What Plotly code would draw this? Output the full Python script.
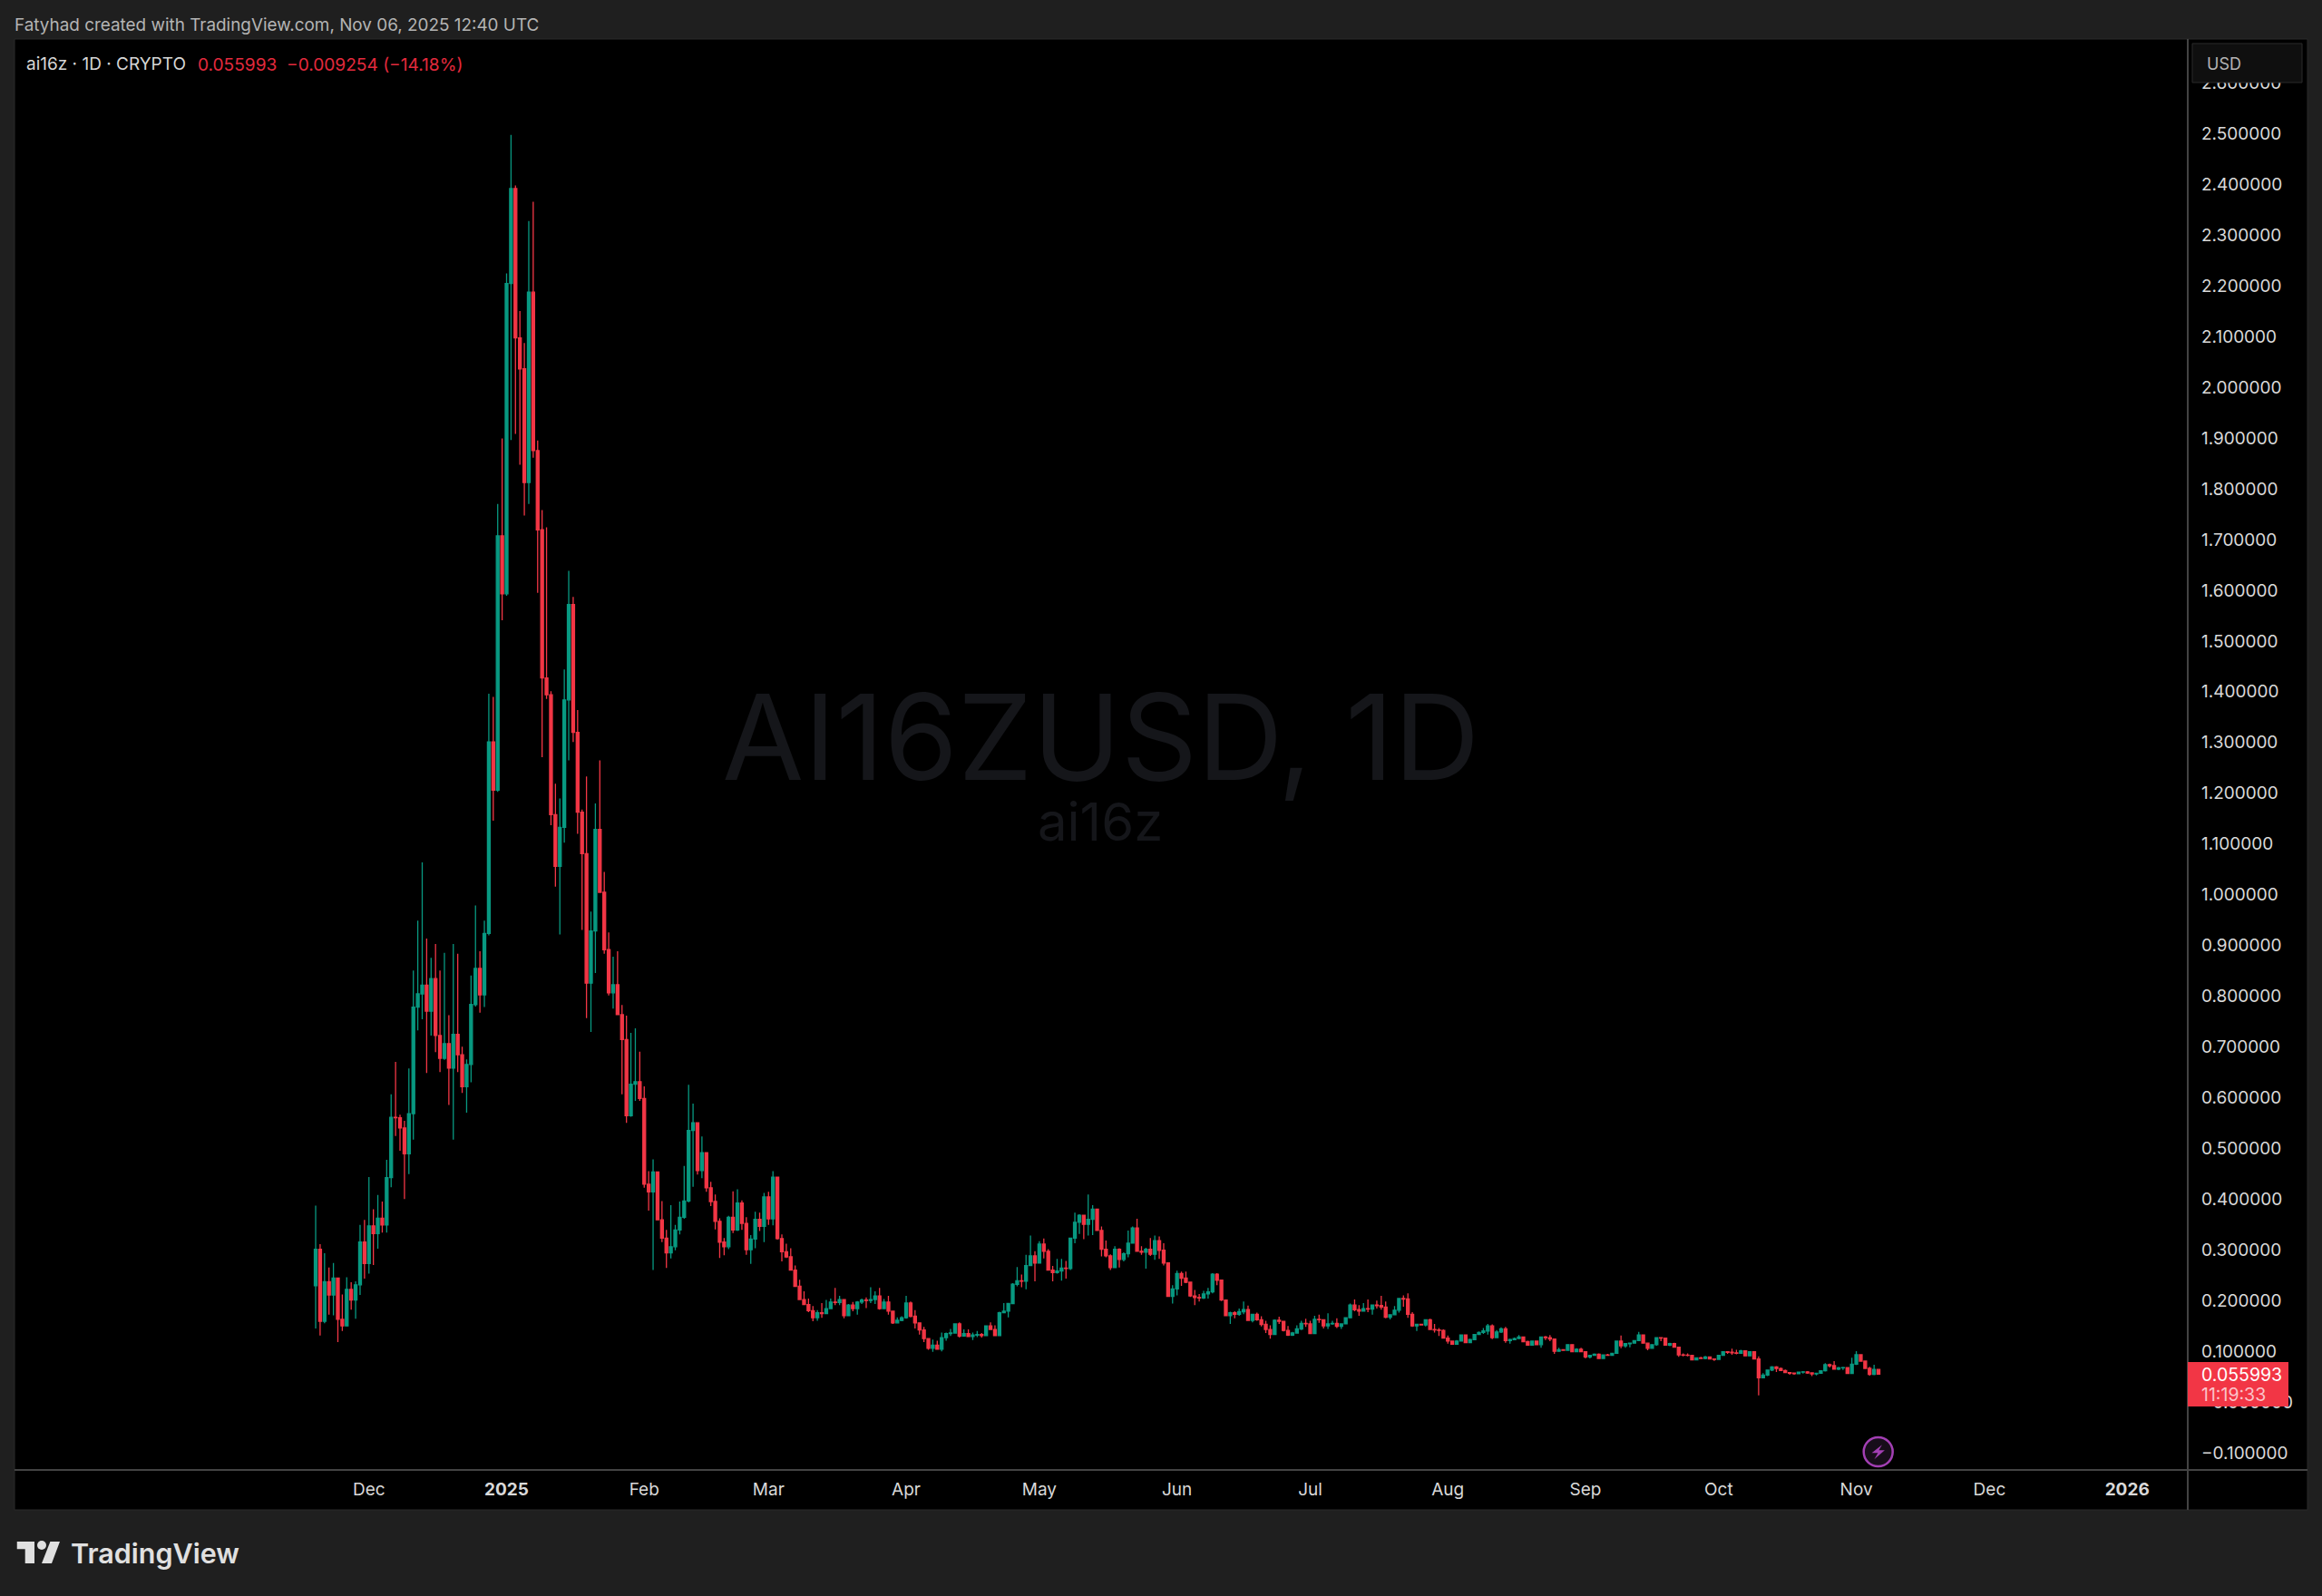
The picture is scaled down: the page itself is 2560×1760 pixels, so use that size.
import pandas as pd
import plotly.graph_objects as go

# daily candles, open is the previous close
first_open = 0.230
first_day = "2024-11-19"

closes = [
    .302, .160, .238, .212, .245, .164, .151, .223, .202, .232,
    .316, .274, .348, .333, .363, .350, .443, .562, .561, .541,
    .490, .569, .779, .805, .822, .771, .835, .723, .678, .707,
    .659, .725, .685, .622, .666, .784, .855, .803, .924, 1.301,
    1.206, 1.707, 1.593, 2.204, 2.391, 2.097, 2.036, 1.812, 2.187, 1.875,
    1.719, 1.427, 1.394, 1.158, 1.056, 1.133, 1.384, 1.572, 1.320, 1.163,
    1.081, .826, .929, 1.129, 1.005, .892, .807, .823, .764, .715,
    .565, .627, .632, .599, .430, .415, .454, .360, .324, .295,
    .307, .340, .365, .397, .536, .551, .457, .492, .423, .396,
    .357, .316, .307, .365, .340, .393, .353, .301, .322, .361,
    .347, .405, .362, .444, .323, .297, .287, .261, .229, .203,
    .193, .181, .167, .177, .175, .185, .198, .197, .203, .171,
    .192, .185, .198, .202, .201, .203, .210, .185, .198, .180,
    .157, .162, .167, .196, .170, .157, .143, .126, .107, .113,
    .105, .128, .136, .137, .155, .131, .136, .130, .133, .134,
    .132, .151, .144, .132, .177, .180, .195, .233, .240, .239,
    .270, .289, .275, .312, .298, .261, .256, .259, .265, .264,
    .324, .355, .369, .351, .361, .381, .339, .302, .289, .266,
    .302, .282, .293, .314, .344, .298, .296, .302, .292, .319,
    .300, .275, .209, .224, .254, .245, .237, .210, .207, .206,
    .214, .218, .253, .241, .202, .171, .177, .174, .179, .183,
    .162, .174, .163, .154, .144, .134, .162, .160, .142, .133,
    .137, .145, .156, .155, .136, .164, .163, .151, .155, .156,
    .150, .155, .167, .192, .183, .180, .185, .184, .192, .191,
    .188, .168, .173, .182, .205, .204, .174, .151, .154, .153,
    .163, .144, .143, .142, .127, .121, .115, .121, .133, .118,
    .124, .134, .138, .141, .151, .128, .139, .145, .122, .124,
    .126, .129, .120, .113, .121, .114, .129, .128, .125, .101,
    .104, .103, .114, .100, .105, .100, .090, .093, .095, .087,
    .094, .093, .097, .121, .112, .116, .117, .122, .133, .117,
    .107, .114, .128, .127, .113, .116, .109, .094, .0935, .093,
    .084, .088, .087, .090, .086, .085, .093, .100, .099, .098,
    .097, .102, .092, .100, .086, .049, .054, .064, .070, .067,
    .063, .059, .058, .057, .060, .0605, .0584, .0566, .0578, .0626,
    .0745, .0727, .0656, .0685, .0690, .0572, .0757, .0941, .0816, .0673,
    .0554, .0652, .055993,
]

highs = [
    .388, .312, .294, .266, .275, .245, .213, .247, .237, .239,
    .350, .360, .444, .381, .409, .396, .478, .607, .671, .567,
    .555, .658, .851, .949, 1.064, .914, .876, .903, .851, .886,
    .763, .903, .884, .701, .676, .841, .979, .889, .949, 1.396,
    1.390, 1.770, 1.899, 2.224, 2.497, 2.397, 2.150, 2.087, 2.327, 2.365,
    1.895, 1.758, 1.724, 1.401, 1.219, 1.190, 1.444, 1.638, 1.587, 1.364,
    1.168, 1.233, .967, 1.180, 1.265, 1.045, .926, .878, .889, .783,
    .762, .728, .737, .691, .623, .456, .479, .454, .397, .340,
    .389, .350, .396, .466, .626, .589, .551, .524, .492, .435,
    .410, .363, .324, .368, .416, .420, .398, .365, .330, .376,
    .374, .413, .415, .456, .444, .331, .313, .304, .270, .242,
    .219, .205, .190, .182, .196, .202, .205, .226, .210, .203,
    .194, .198, .200, .205, .207, .227, .219, .226, .204, .210,
    .180, .168, .170, .210, .199, .182, .157, .149, .126, .124,
    .122, .138, .138, .145, .156, .158, .144, .144, .138, .141,
    .137, .152, .158, .152, .179, .196, .196, .235, .267, .252,
    .291, .329, .298, .318, .323, .302, .269, .283, .283, .279,
    .325, .374, .371, .370, .410, .389, .381, .347, .319, .292,
    .308, .304, .296, .339, .347, .362, .308, .305, .324, .329,
    .327, .314, .275, .231, .260, .258, .258, .237, .222, .214,
    .220, .226, .255, .255, .241, .202, .179, .180, .185, .199,
    .191, .174, .177, .170, .161, .152, .164, .169, .161, .151,
    .139, .152, .161, .165, .161, .171, .173, .161, .176, .161,
    .166, .156, .168, .195, .203, .192, .196, .203, .193, .201,
    .210, .199, .174, .190, .206, .211, .215, .178, .155, .155,
    .164, .165, .155, .147, .144, .132, .122, .123, .134, .134,
    .126, .135, .140, .147, .155, .154, .143, .148, .149, .126,
    .128, .133, .129, .122, .122, .122, .130, .131, .133, .126,
    .108, .105, .115, .115, .107, .108, .101, .094, .097, .097,
    .095, .096, .098, .122, .132, .117, .118, .123, .139, .134,
    .118, .115, .129, .129, .127, .118, .118, .110, .097, .097,
    .094, .089, .090, .092, .091, .087, .094, .101, .101, .106,
    .104, .104, .103, .101, .101, .091, .058, .065, .072, .072,
    .069, .065, .060, .058, .061, .062, .062, .0595, .0590, .0632,
    .0775, .0765, .0816, .0703, .0705, .0700, .0882, .1013, .0950, .0816,
    .0703, .0745, .0665,
]

lows = [
    .146, .132, .156, .173, .172, .119, .141, .151, .183, .165,
    .212, .244, .254, .271, .303, .335, .335, .424, .525, .496,
    .401, .450, .518, .733, .755, .649, .723, .690, .651, .675,
    .586, .518, .651, .610, .571, .631, .780, .768, .779, .920,
    1.146, 1.203, 1.541, 1.589, 1.896, 1.908, 1.847, 1.747, 1.770, 1.861,
    1.595, 1.271, 1.386, 1.137, 1.016, .922, 1.103, 1.265, 1.301, 1.120,
    .931, .757, .730, .846, 1.005, .884, .802, .776, .763, .607,
    .551, .563, .594, .594, .423, .378, .261, .360, .316, .265,
    .284, .300, .331, .362, .394, .425, .449, .442, .415, .387,
    .341, .285, .290, .302, .334, .338, .340, .291, .273, .304,
    .338, .316, .350, .349, .321, .278, .285, .261, .229, .202,
    .192, .178, .160, .161, .167, .175, .184, .192, .192, .166,
    .171, .180, .173, .194, .186, .196, .194, .183, .184, .173,
    .155, .156, .160, .165, .168, .146, .134, .119, .104, .100,
    .104, .101, .122, .131, .136, .128, .130, .130, .123, .129,
    .128, .132, .144, .131, .132, .177, .168, .195, .229, .227,
    .223, .269, .239, .274, .284, .261, .239, .254, .240, .244,
    .261, .314, .332, .322, .329, .330, .338, .288, .286, .261,
    .266, .266, .278, .286, .314, .298, .291, .264, .289, .281,
    .283, .270, .209, .195, .211, .230, .235, .208, .192, .199,
    .204, .205, .215, .231, .200, .171, .155, .166, .171, .174,
    .161, .158, .161, .150, .137, .126, .133, .155, .140, .131,
    .131, .136, .143, .149, .135, .137, .157, .146, .145, .153,
    .147, .145, .155, .167, .180, .171, .179, .178, .173, .185,
    .183, .166, .164, .173, .177, .189, .167, .149, .141, .152,
    .150, .143, .138, .131, .126, .116, .114, .115, .120, .117,
    .117, .124, .133, .135, .134, .125, .127, .137, .118, .116,
    .123, .125, .119, .112, .113, .113, .108, .123, .121, .096,
    .101, .102, .103, .099, .100, .099, .087, .087, .092, .086,
    .087, .092, .093, .097, .107, .108, .109, .116, .121, .116,
    .103, .106, .112, .121, .112, .111, .108, .090, .091, .091,
    .083, .083, .086, .085, .085, .082, .085, .093, .096, .094,
    .095, .096, .091, .091, .085, .014, .048, .052, .062, .060,
    .062, .058, .055, .055, .056, .057, .0565, .052, .0535, .0570,
    .0610, .069, .0650, .0637, .0640, .0565, .0560, .0740, .0810, .0665,
    .0530, .0540, .0548,
]

price_ticks = [-0.1, 0.0, 0.1, 0.2, 0.3, 0.4, 0.5, 0.6, 0.7, 0.8, 0.9, 1.0, 1.1, 1.2, 1.3,
               1.4, 1.5, 1.6, 1.7, 1.8, 1.9, 2.0, 2.1, 2.2, 2.3, 2.4, 2.5, 2.6]
price_labels = ["−0.100000", "−0.000000", "0.100000", "0.200000", "0.300000", "0.400000",
                "0.500000", "0.600000", "0.700000", "0.800000", "0.900000", "1.000000",
                "1.100000", "1.200000", "1.300000", "1.400000", "1.500000", "1.600000",
                "1.700000", "1.800000", "1.900000", "2.000000", "2.100000", "2.200000",
                "2.300000", "2.400000", "2.500000", "2.600000"]

month_ticks = ["2024-12-01", "2025-01-01", "2025-02-01", "2025-03-01", "2025-04-01", "2025-05-01",
               "2025-06-01", "2025-07-01", "2025-08-01", "2025-09-01", "2025-10-01", "2025-11-01",
               "2025-12-01", "2026-01-01"]
month_labels = ["Dec", "<b>2025</b>", "Feb", "Mar", "Apr", "May", "Jun", "Jul", "Aug", "Sep", "Oct",
                "Nov", "Dec", "<b>2026</b>"]

UP = "#089981"
DOWN = "#F23645"
PAGE = "#1F1F1F"
RULE = "#434343"
FONT = "Inter"

W, H = 2560, 1760
# pixel box of the chart pane
LEFT, RIGHT, TOP, BOTTOM = 16, 2412, 43, 1621
FRAME_RIGHT, FRAME_BOTTOM = 2544, 1665
PX_PER_DAY = 4.895
JAN1_PX = 558.5
PX_PER_UNIT = 559.9
ZERO_PX = 1546.7


def px(x):
    return x / W


def py(y):
    return 1 - y / H


def poly(points):
    return "M " + " L ".join(f"{px(x):.5f},{py(y):.5f}" for x, y in points) + " Z"


def rect(x0, y0, x1, y1, fill, line=None, layer="above"):
    return dict(type="rect", xref="paper", yref="paper", x0=px(x0), x1=px(x1), y0=py(y0), y1=py(y1),
                fillcolor=fill, line=dict(color=line or fill, width=1 if line else 0), layer=layer)


def rule(x0, y0, x1, y1):
    return dict(type="line", xref="paper", yref="paper", x0=px(x0), x1=px(x1), y0=py(y0), y1=py(y1),
                line=dict(color=RULE, width=2), layer="above")


def shape_path(points, fill):
    return dict(type="path", xref="paper", yref="paper", path=poly(points), fillcolor=fill,
                line=dict(width=0), layer="above")


def circle(cx, cy, r, fill, line=None, width=0):
    return dict(type="circle", xref="paper", yref="paper", x0=px(cx - r), x1=px(cx + r),
                y0=py(cy + r), y1=py(cy - r), fillcolor=fill,
                line=dict(color=line or fill, width=width), layer="above")


def label(x, y, text, size, color, weight=None, anchor="left"):
    font = dict(family=FONT, size=size, color=color)
    if weight:
        font["weight"] = weight
    return dict(xref="paper", yref="paper", x=px(x), y=py(y), text=text, showarrow=False,
                xanchor=anchor, yanchor="middle", font=font, borderpad=0)


days = pd.date_range(first_day, periods=len(closes))
opens = [first_open] + closes[:-1]

fig = go.Figure(go.Candlestick(
    x=days,
    open=opens,
    high=highs,
    low=lows,
    close=closes,
    increasing=dict(line=dict(color=UP, width=1.3), fillcolor=UP),
    decreasing=dict(line=dict(color=DOWN, width=1.3), fillcolor=DOWN),
    whiskerwidth=0,
    hoverinfo="none",
    showlegend=False,
))

jan1 = pd.Timestamp("2025-01-01")
x_start = jan1 + pd.Timedelta(days=(LEFT - JAN1_PX) / PX_PER_DAY)
x_end = jan1 + pd.Timedelta(days=(RIGHT - JAN1_PX) / PX_PER_DAY)

shapes = [
    rect(LEFT, TOP, FRAME_RIGHT, FRAME_BOTTOM, "#000000", line="#2B2B2B", layer="below"),
    rule(RIGHT, TOP, RIGHT, FRAME_BOTTOM),
    rule(LEFT, BOTTOM, FRAME_RIGHT, BOTTOM),
    # USD box
    dict(type="rect", xref="paper", yref="paper", x0=px(2417), x1=px(2538), y0=py(91), y1=py(48),
         fillcolor="#0F0F0F", line=dict(color="#2A2A2A", width=1), layer="above"),
    # last price tag
    rect(RIGHT, 1502, 2523, 1551, DOWN),
    # flash icon
    circle(2070.7, 1601, 16, "#170D1A", line="#A23FB3", width=2.5),
    shape_path([(2075, 1593.3), (2063.6, 1602.3), (2070.4, 1602.3), (2066.4, 1609.3),
                (2077.9, 1599.3), (2071.4, 1599.3)], "#A23FB3"),
    # logo
    shape_path([(18.75, 1700), (38, 1700), (38, 1724), (27.7, 1724), (27.7, 1708.3), (18.75, 1708.3)], "#E0E0E0"),
    circle(46, 1704, 5, "#E0E0E0"),
    shape_path([(55.4, 1700), (66, 1700), (57, 1724), (46, 1724)], "#E0E0E0"),
]

annotations = [
    label(15, 28, "Fatyhad created with TradingView.com, Nov 06, 2025 12:40 UTC", 18.9, "#B4B4B4"),
    label(28, 71, "ai16z · 1D · CRYPTO", 19, "#D6D6D6"),
    label(217, 71, "0.055993  −0.009254 (−14.18%)", 19.1, "#E32A3D"),
    label(1213, 812, "AI16ZUSD, 1D", 131, "#15161A", anchor="center"),
    label(1213, 906, "ai16z", 58, "#15161A", anchor="center"),
    label(2432, 70, "USD", 18, "#B4B4B4"),
    label(2426, 1516, "0.055993", 19.5, "#FFFFFF"),
    label(2426, 1538, "11:19:33", 19.5, "#FBC4CA"),
    label(77, 1712, "TradingView", 30.5, "#E0E0E0", weight=600),
]

fig.update_layout(
    width=W,
    height=H,
    margin=dict(l=0, r=0, t=0, b=0),
    paper_bgcolor=PAGE,
    plot_bgcolor="#000000",
    boxgap=0.12,
    hovermode=False,
    showlegend=False,
    font=dict(family=FONT, size=19, color="#D9D9D9"),
    shapes=shapes,
    annotations=annotations,
    xaxis=dict(
        domain=[px(LEFT), px(RIGHT)],
        range=[x_start, x_end],
        rangeslider=dict(visible=False),
        showgrid=False,
        zeroline=False,
        showline=False,
        tickmode="array",
        tickvals=month_ticks,
        ticktext=month_labels,
        ticks="",
        tickangle=0,
        ticklabelstandoff=8,
        tickfont=dict(family=FONT, size=19, color="#D9D9D9"),
    ),
    yaxis=dict(
        domain=[py(BOTTOM), py(TOP)],
        range=[(ZERO_PX - BOTTOM) / PX_PER_UNIT, (ZERO_PX - TOP) / PX_PER_UNIT],
        side="right",
        showgrid=False,
        zeroline=False,
        showline=False,
        tickmode="array",
        tickvals=price_ticks,
        ticktext=price_labels,
        ticks="",
        ticklabelstandoff=14,
        tickfont=dict(family=FONT, size=19, color="#D9D9D9"),
    ),
)

# the page is exactly the figure, no browser default margin round it
fig.write_html(
    "out.html",
    config=dict(displayModeBar=False),
    post_script="document.body.style.margin='0';document.body.style.background='#1F1F1F';",
)
